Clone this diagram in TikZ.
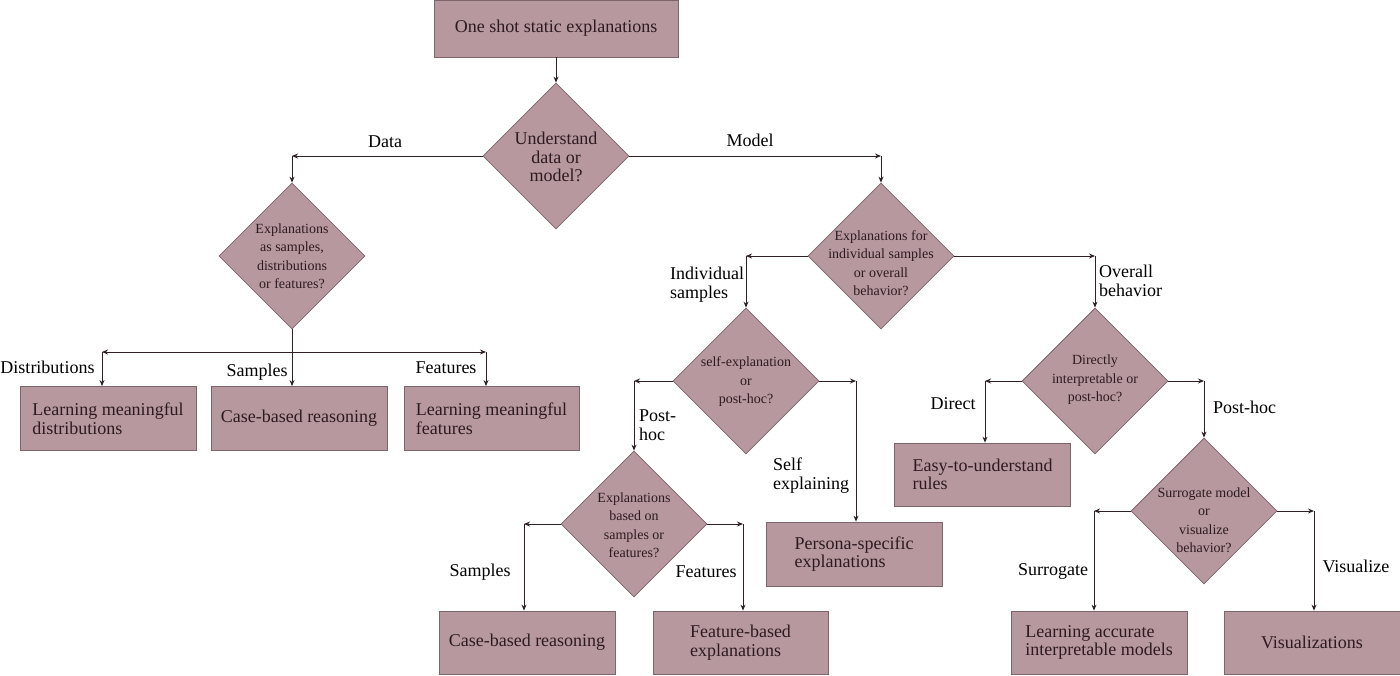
\documentclass[tikz,border=0pt]{standalone}
\usepackage{fontspec}
\setmainfont{LiberationSerif}[Extension=.ttf, UprightFont=*-Regular, BoldFont=*-Bold, ItalicFont=*-Italic, BoldItalicFont=*-BoldItalic]
\usetikzlibrary{shapes.geometric,arrows.meta}
\definecolor{boxfill}{HTML}{B7989F}
\definecolor{boxline}{HTML}{7E646B}
\definecolor{ink}{HTML}{2B1B20}
\definecolor{wire}{HTML}{2E2024}

\begin{document}
\begin{tikzpicture}[x=1pt,y=-1pt,
  box/.style={draw=boxline, fill=boxfill, line width=0.8pt, minimum width=176pt,
    minimum height=64pt, inner sep=0pt, align=left, text=ink,
    font=\fontsize{18}{18.5}\selectfont},
  dia/.style={diamond, draw=boxline, fill=boxfill, line width=0.8pt,
    minimum width=146pt, minimum height=146pt, inner sep=0pt},
  dtxt/.style={align=center, text=ink, font=\fontsize{14}{18.5}\selectfont, inner sep=0pt},
  lbl/.style={align=left, text=black, font=\fontsize{18}{19}\selectfont, inner sep=0pt},
  arr/.style={draw=wire, line width=1pt, -{Stealth[length=6pt,width=5pt]}},
]
\useasboundingbox (0,0) rectangle (1400,675);

% ---------- decision diamonds ----------
\node[dia] (d1) at (556,156) {};
\node[dtxt, font=\fontsize{18}{18.5}\selectfont] (t1) at (556,157) {Understand\\data or\\model?};
\node[dia] (d2) at (292,256) {};
\node[dtxt] (t2) at (292,256) {Explanations\\as samples,\\distributions\\or features?};
\node[dia] (d3) at (881,256) {};
\node[dtxt] (t3) at (881,263) {Explanations for\\individual samples\\or overall\\behavior?};
\node[dia] (d4) at (746,381) {};
\node[dtxt] (t4) at (746,382) {self-explanation\\or\\post-hoc?};
\node[dia] (d5) at (1095,381) {};
\node[dtxt] (t5) at (1095,380) {Directly\\interpretable or\\post-hoc?};
\node[dia] (d6) at (634,524) {};
\node[dtxt] (t6) at (634,525) {Explanations\\based on\\samples or\\features?};
\node[dia] (d7) at (1204,511) {};
\node[dtxt] (t7) at (1204,520) {Surrogate model\\or\\visualize\\behavior?};

% ---------- boxes ----------
\node[box, minimum width=244pt, minimum height=57pt] (b0) at (556,28.5) {One shot static explanations};
\node[box] (b1) at (108,418.5) {Learning meaningful\\distributions};
\node[box] (b2) at (299,418.5) {Case-based reasoning};
\node[box, minimum width=175pt] (b3) at (491.5,418.5) {Learning meaningful\\features};
\node[box] (b4) at (854,554) {Persona-specific\\explanations};
\node[box, minimum height=63pt] (b5) at (982.5,474.5) {Easy-to-understand\\rules};
\node[box, minimum height=63pt] (b6) at (527,642.5) {Case-based reasoning};
\node[box, minimum width=175pt, minimum height=63pt] (b7) at (740.5,642.5) {Feature-based\\explanations};
\node[box, minimum height=63pt] (b8) at (1099,642.5) {Learning accurate\\interpretable models};
\node[box, minimum height=63pt] (b9) at (1312,642.5) {Visualizations};

% ---------- connector corners ----------
\coordinate (cD) at (d1.west -| d2.north);
\coordinate (cM) at (d1.east -| d3.north);
\coordinate (hM) at (292,352);
\coordinate (hL) at (102,352);
\coordinate (hR) at (486,352);
\coordinate (cI) at (d3.west -| d4.north);
\coordinate (cO) at (d3.east -| d5.north);
\coordinate (cP) at (d4.west -| d6.north);
\coordinate (cS) at (856,381);
\coordinate (cSa) at (524,524);
\coordinate (cFe) at (743,524);
\coordinate (cDi) at (985,381);
\coordinate (cPh) at (d5.east -| d7.north);
\coordinate (cSu) at (1094,511);
\coordinate (cVi) at (1314,511);

% ---------- connectors ----------
\draw[arr] (b0.south) -- (d1.north);
\draw[arr] (d1.west) -- (cD);
\draw[arr] (cD) -- (d2.north);
\draw[arr] (d1.east) -- (cM);
\draw[arr] (cM) -- (d3.north);

\draw[draw=wire, line width=1pt] (d2.south) -- (hM);
\draw[arr] (hM) -- (hL);
\draw[arr] (hM) -- (hR);
\draw[arr] (hM) -- (hM |- b2.north);
\draw[arr] (hL) -- (hL |- b1.north);
\draw[arr] (hR) -- (hR |- b3.north);

\draw[arr] (d3.west) -- (cI);
\draw[arr] (cI) -- (d4.north);
\draw[arr] (d3.east) -- (cO);
\draw[arr] (cO) -- (d5.north);

\draw[arr] (d4.west) -- (cP);
\draw[arr] (cP) -- (d6.north);
\draw[arr] (d4.east) -- (cS);
\draw[arr] (cS) -- (cS |- b4.north);

\draw[arr] (d6.west) -- (cSa);
\draw[arr] (cSa) -- (cSa |- b6.north);
\draw[arr] (d6.east) -- (cFe);
\draw[arr] (cFe) -- (cFe |- b7.north);

\draw[arr] (d5.west) -- (cDi);
\draw[arr] (cDi) -- (cDi |- b5.north);
\draw[arr] (d5.east) -- (cPh);
\draw[arr] (cPh) -- (d7.north);

\draw[arr] (d7.west) -- (cSu);
\draw[arr] (cSu) -- (cSu |- b8.north);
\draw[arr] (d7.east) -- (cVi);
\draw[arr] (cVi) -- (cVi |- b9.north);

% ---------- branch labels ----------
\node[lbl] (lData) at (385,142) {Data};
\node[lbl] (lModel) at (750,140) {Model};
\node[lbl] (lDist) at (47.5,367) {Distributions};
\node[lbl] (lSamp1) at (257,372) {Samples};
\node[lbl] (lFeat1) at (446,368) {Features};
\node[lbl, anchor=west] (lInd) at (670,284.5) {Individual\\samples};
\node[lbl, anchor=west] (lOver) at (1099,281) {Overall\\behavior};
\node[lbl, anchor=west] (lPost) at (639,425) {Post-\\hoc};
\node[lbl, anchor=west] (lSelf) at (773,476) {Self\\explaining};
\node[lbl] (lSamp2) at (480,572) {Samples};
\node[lbl] (lFeat2) at (706,572) {Features};
\node[lbl] (lDir) at (953,404) {Direct};
\node[lbl, anchor=west] (lPh) at (1213,407) {Post-hoc};
\node[lbl] (lSur) at (1053,571) {Surrogate};
\node[lbl] (lVis) at (1356,566) {Visualize};
\end{tikzpicture}
\end{document}
